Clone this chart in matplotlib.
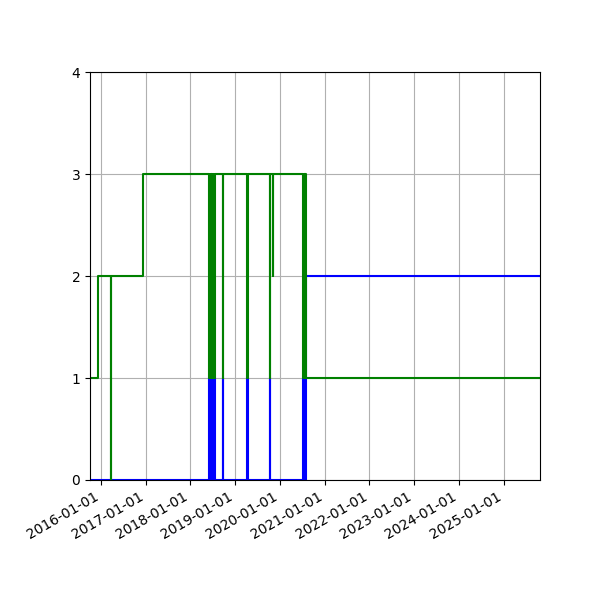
import matplotlib
matplotlib.use("Agg")
import matplotlib.pyplot as plt
import matplotlib.dates as mdates
import numpy as np

blue_dates = ["2015-10-05",
              "2018-05-31", "2018-06-06", "2018-06-12", "2018-06-19", "2018-06-25",
              "2018-07-01", "2018-07-07", "2018-07-12", "2018-07-15", "2018-07-18",
              "2018-09-20", "2018-09-28",
              "2019-04-04", "2019-04-12",
              "2019-10-12", "2019-10-16",
              "2020-07-09", "2020-07-15", "2020-07-21", "2020-07-27", "2020-08-01",
              "2020-08-05",
              "2025-10-23"]
blue_values = [0,
               1, 0, 1, 0, 1,
               0, 1, 0, 1, 0,
               1, 0,
               1, 0,
               1, 0,
               1, 0, 1, 0, 1,
               2,
               2]

green_dates = ["2015-10-05", "2015-12-11",
               "2016-03-25", "2016-03-27",
               "2016-12-09",
               "2018-05-31", "2018-06-06", "2018-06-12", "2018-06-19", "2018-06-25",
               "2018-07-01", "2018-07-07", "2018-07-12", "2018-07-15", "2018-07-18",
               "2018-09-20", "2018-09-28",
               "2019-04-04", "2019-04-12",
               "2019-10-12", "2019-10-16",
               "2019-11-06", "2019-11-09",
               "2020-07-09", "2020-07-15", "2020-07-21", "2020-07-27", "2020-08-01",
               "2020-08-05",
               "2025-10-23"]
green_values = [1, 2,
                0, 2,
                3,
                1, 3, 1, 3, 1,
                3, 1, 3, 1, 3,
                1, 3,
                1, 3,
                1, 3,
                2, 3,
                1, 3, 1, 3, 1,
                1,
                1]

bd = np.array(blue_dates, dtype="datetime64[D]")
gd = np.array(green_dates, dtype="datetime64[D]")

fig = plt.figure(figsize=(6, 6), dpi=100)
ax = fig.add_subplot(111)
fig.subplots_adjust(left=0.15, right=0.9, bottom=0.2, top=0.88)

ax.step(bd, blue_values, where="post", color="blue")
ax.step(gd, green_values, where="post", color="green")

ax.set_xlim(np.datetime64("2015-10-05"), np.datetime64("2025-10-23"))
ax.set_ylim(0, 4)
ax.set_yticks([0, 1, 2, 3, 4])
ax.xaxis.set_major_locator(mdates.YearLocator())
ax.xaxis.set_major_formatter(mdates.DateFormatter("%Y-%m-%d"))
ax.grid(True)
for lbl in ax.get_xticklabels():
    lbl.set_rotation(30)
    lbl.set_ha("right")

fig.savefig("out.png", dpi=100)
